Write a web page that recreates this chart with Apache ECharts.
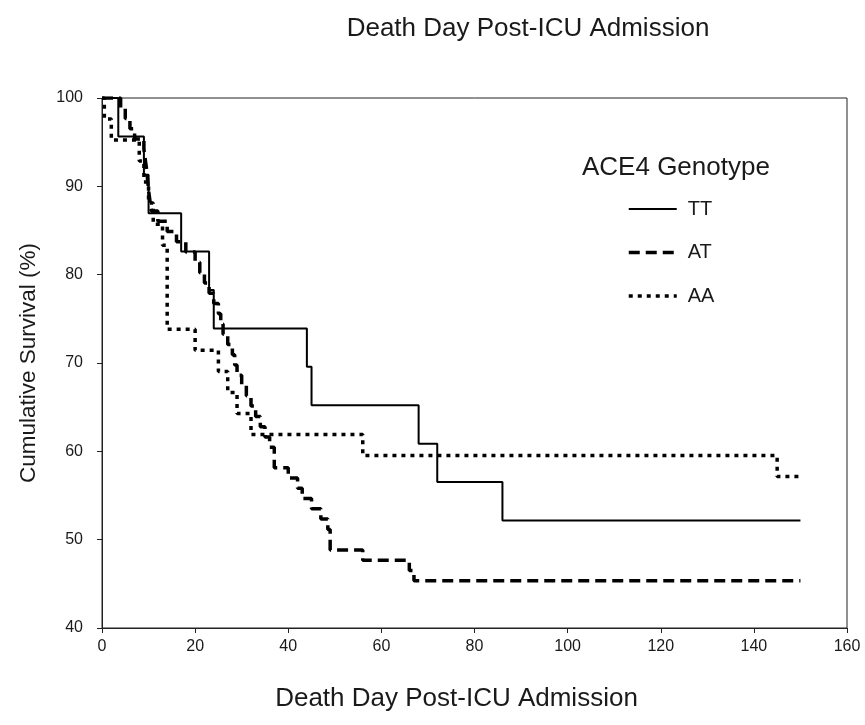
<!DOCTYPE html>
<html>
<head>
<meta charset="utf-8">
<script src="https://cdn.jsdelivr.net/npm/echarts@6/dist/echarts.min.js"></script>
<style>
html,body{margin:0;padding:0;background:#fff;}
#c{width:865px;height:725px;}
</style>
</head>
<body>
<div id="c"></div>
<script>
// Kaplan-Meier step points: [day of event], [survival % after event]
const ttDays = [0, 3.5, 9, 10, 17, 23, 24, 44, 45, 68, 72, 86, 150];
const ttSurv = [100, 95.65, 91.30, 86.96, 82.61, 78.26, 73.91, 69.57, 65.22, 60.87, 56.52, 52.17, 52.17];

const atDays = [0, 4, 5, 6, 7, 9, 9.3, 9.6, 9.8, 10, 10.3, 10.6, 12, 14, 16, 18, 20, 21, 22, 23, 24,
  25, 25.5, 26, 27, 28, 28.5, 29, 30, 31, 32, 33, 34, 35, 36, 37, 37, 40, 42, 43, 45, 47, 48.5, 49, 49,
  56, 66, 67, 150];
const atSurv = [100, 98.84, 97.67, 96.51, 95.35, 94.19, 93.02, 91.86, 90.70, 89.53, 88.37, 87.21, 86.05, 84.88, 83.72, 82.56, 81.40, 80.23, 79.07, 77.91, 76.74,
  75.58, 74.42, 73.26, 72.09, 70.93, 69.77, 68.60, 67.44, 66.28, 65.12, 63.95, 62.79, 61.63, 60.47, 59.30, 58.14, 56.98, 55.81, 54.65, 53.49, 52.33, 51.16, 50.00, 48.84,
  47.67, 46.51, 45.35, 45.35];

const aaDays = [0, 0.5, 2, 8, 9, 10, 11, 13, 14, 14, 14, 14, 20, 25, 27, 29, 32, 56, 145, 150];
const aaSurv = [100, 97.62, 95.24, 92.86, 90.48, 88.10, 85.71, 83.33, 80.95, 78.57, 76.19, 73.81, 71.43, 69.05, 66.67, 64.29, 61.90, 59.52, 57.14, 57.14];

const groupNames = ['TT', 'AT', 'AA'];
const xTicks = [0, 20, 40, 60, 80, 100, 120, 140, 160];
const yTicks = [40, 50, 60, 70, 80, 90, 100];

function zip(a, b) { return a.map((d, i) => [d, b[i]]); }

const chart = echarts.init(document.getElementById('c'), null, {renderer: 'canvas'});
const FONT = 'Liberation Sans, Arial, sans-serif';
const TXT = '#1a1a1a';
const widths = [2, 3.5, 3.5];
const dashes = ['solid', [11, 6], [4, 5]];

chart.setOption({
  animation: false,
  backgroundColor: '#ffffff',
  title: [
    {text: 'Death Day Post-ICU Admission', left: 523, top: 11, textAlign: 'center',
     textStyle: {fontFamily: FONT, fontSize: 26, fontWeight: 'normal', color: TXT}},
    {text: 'ACE4 Genotype', left: 577, top: 150,
     textStyle: {fontFamily: FONT, fontSize: 26, fontWeight: 'normal', color: TXT}}
  ],
  legend: {
    data: groupNames.map((n, i) => ({name: n, lineStyle: {width: widths[i], type: dashes[i], color: '#000'}})),
    orient: 'vertical',
    left: 622, top: 194,
    itemWidth: 48, itemHeight: 14, itemGap: 23.5,
    itemStyle: {color: 'rgba(0,0,0,0)', borderWidth: 0},
    textStyle: {fontFamily: FONT, fontSize: 20, color: TXT, padding: [0, 0, 0, 6]}
  },
  grid: {left: 102, right: 18, top: 98, bottom: 97, show: true, borderColor: '#222', borderWidth: 1},
  xAxis: {
    type: 'value', min: xTicks[0], max: xTicks[xTicks.length - 1], interval: 20,
    name: 'Death Day Post-ICU Admission', nameLocation: 'middle', nameGap: 58,
    nameTextStyle: {fontFamily: FONT, fontSize: 26, color: TXT, padding: [0, 36, 0, 0]},
    axisLine: {lineStyle: {color: '#222', width: 1}},
    axisTick: {show: true, length: 5, lineStyle: {color: '#222'}},
    axisLabel: {fontFamily: FONT, fontSize: 16, color: TXT, margin: 11},
    splitLine: {show: false}
  },
  yAxis: {
    type: 'value', min: yTicks[0], max: yTicks[yTicks.length - 1], interval: 10,
    name: 'Cumulative Survival (%)', nameLocation: 'middle', nameGap: 62,
    nameTextStyle: {fontFamily: FONT, fontSize: 22.5, color: TXT},
    axisLine: {show: true, lineStyle: {color: '#222', width: 1}},
    axisTick: {show: true, length: 5, lineStyle: {color: '#222'}},
    axisLabel: {fontFamily: FONT, fontSize: 16, color: TXT, margin: 19},
    splitLine: {show: false}
  },
  series: [
    {name: groupNames[0], type: 'line', step: 'end', symbol: 'none', data: zip(ttDays, ttSurv),
     lineStyle: {color: '#000', width: widths[0], type: dashes[0]}, itemStyle: {color: '#000'}},
    {name: groupNames[1], type: 'line', step: 'end', symbol: 'none', data: zip(atDays, atSurv),
     lineStyle: {color: '#000', width: widths[1], type: dashes[1]}, itemStyle: {color: '#000'}},
    {name: groupNames[2], type: 'line', step: 'end', symbol: 'none', data: zip(aaDays, aaSurv),
     lineStyle: {color: '#000', width: widths[2], type: dashes[2]}, itemStyle: {color: '#000'}}
  ]
});
</script>
</body>
</html>
